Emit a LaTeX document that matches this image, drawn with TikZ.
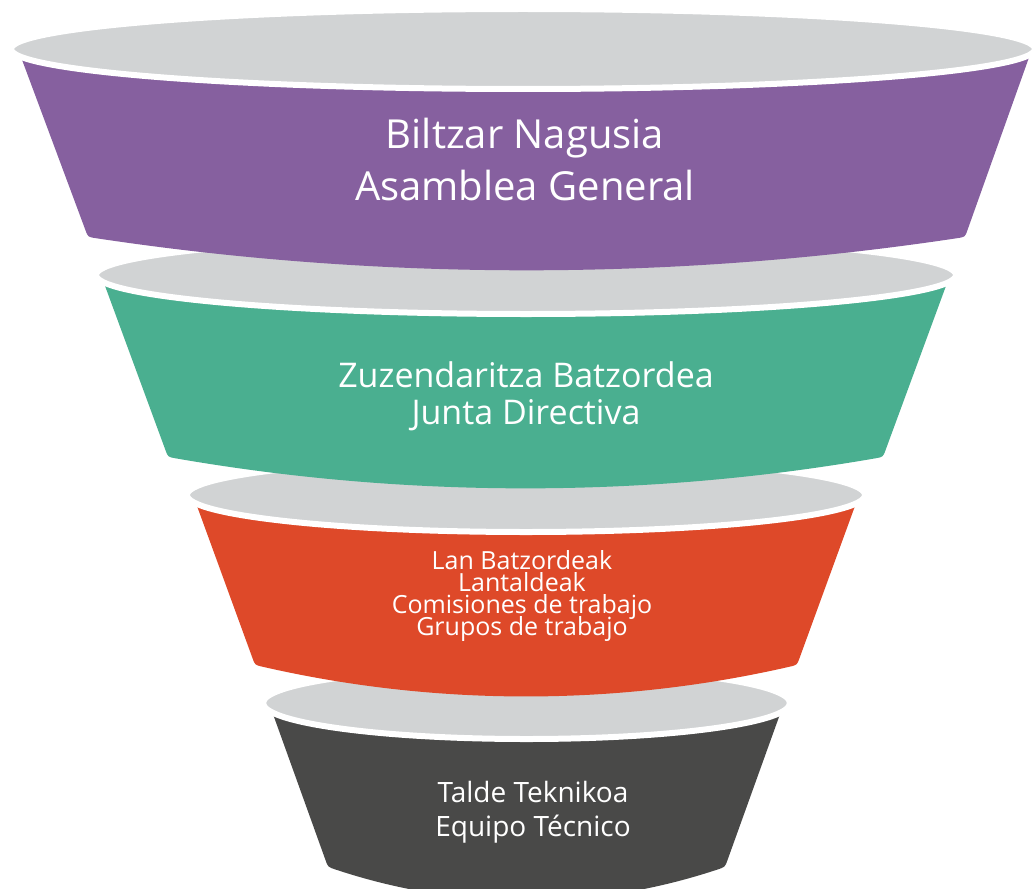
\documentclass[tikz,border=0pt]{standalone}
\usepackage{fontspec}
\setmainfont{Open Sans}
\usetikzlibrary{calc}
\definecolor{fgray}{HTML}{D1D3D4}
\definecolor{fpurple}{HTML}{86609F}
\definecolor{fgreen}{HTML}{4AAF90}
\definecolor{fred}{HTML}{DE4929}
\definecolor{fdark}{HTML}{494948}
\newcommand{\tightlines}{\setlength{\lineskiplimit}{-100pt}\setlength{\lineskip}{0pt}}
\tikzset{
  rim/.style={fill=fgray, draw=white, line width=6pt},
  label/.style={text=white, anchor=base, inner sep=0pt},
}
% #1 colour, #2 top-left x, #3 top-right x, #4 top y, #5 bottom-left x, #6 bottom-right x, #7 bottom y, #8 sag
\newcommand{\funnelbody}[8]{%
  \coordinate (tl) at (#2,#4);
  \coordinate (tr) at (#3,#4);
  \coordinate (bl) at (#5,#7);
  \coordinate (br) at (#6,#7);
  \coordinate (cl) at ({#5+(#6-#5)/3},{#7+4*#8/3});
  \coordinate (cr) at ({#6-(#6-#5)/3},{#7+4*#8/3});
  \fill[#1] (tl) -- (tr) -- ($(br)!7pt!(tr)$) .. controls (br) .. ($(br)!8pt!(cr)$)
     .. controls (cr) and (cl) .. ($(bl)!8pt!(cl)$) .. controls (bl) .. ($(bl)!7pt!(tl)$) -- cycle;
}
\begin{document}
\begin{tikzpicture}[x=1pt,y=-1pt]
\useasboundingbox (0,0) rectangle (1032,888);
\begin{scope}
\clip (0,0) rectangle (1032,888);
% tier 4
\funnelbody{fdark}{269}{784}{703}{328}{725}{867}{33}
\draw[rim] (526.5,703) ellipse [x radius=263.5, y radius=36];
% tier 3
\funnelbody{fred}{193}{859}{495}{255}{797}{665}{31}
\draw[rim] (526,495) ellipse [x radius=339, y radius=37];
% tier 2
\funnelbody{fgreen}{101}{950}{275}{168}{883}{457}{31}
\draw[rim] (526,275) ellipse [x radius=430, y radius=39];
% tier 1
\funnelbody{fpurple}{18}{1032}{49}{88}{965}{237}{33}
\draw[rim] (523,49) ellipse [x radius=512, y radius=40];
\end{scope}
% labels
\node[label, font=\fontsize{40}{46}\selectfont] (a1) at (525,148) {Biltzar Nagusia};
\node[label, font=\fontsize{40}{46}\selectfont] (a2) at (525,200) {Asamblea General};
\node[label, font=\fontsize{34}{40}\selectfont] (b1) at (526,387) {Zuzendaritza Batzordea};
\node[label, font=\fontsize{34}{40}\selectfont] (b2) at (526,424) {Junta Directiva};
\node[text=white, inner sep=0pt, align=center, anchor=center,
      font={\fontsize{25}{22}\selectfont\tightlines}] (c) at (522,596)
      {Lan Batzordeak\\Lantaldeak\\Comisiones de trabajo\\Grupos de trabajo};
\node[label, font=\fontsize{28}{34}\selectfont] (d1) at (533,802) {Talde Teknikoa};
\node[label, font=\fontsize{28}{34}\selectfont] (d2) at (533,836) {Equipo Técnico};
\end{tikzpicture}
\end{document}
